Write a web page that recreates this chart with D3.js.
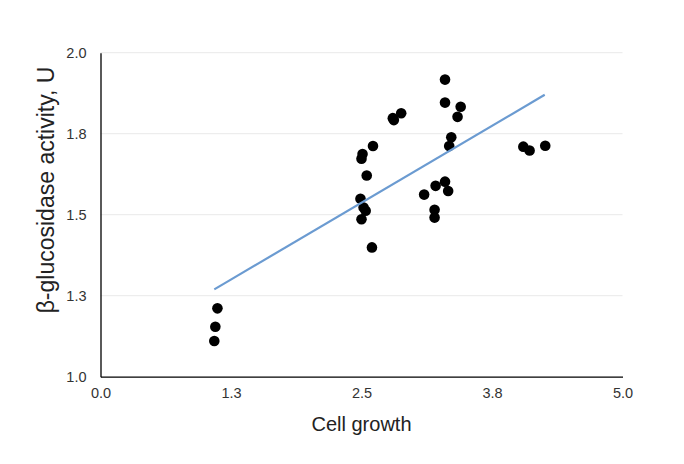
<!DOCTYPE html>
<html>
<head>
<meta charset="utf-8">
<script src="https://cdn.jsdelivr.net/npm/d3@7"></script>
<style>
  html, body { margin: 0; padding: 0; background: #fff; }
  svg { display: block; font-family: "Liberation Sans", Arial, Helvetica, sans-serif; }
</style>
</head>
<body>
<svg id="chart" width="684" height="464"></svg>
<script>
// Data
const cellGrowth = [
  1.12, 1.10, 1.09,
  2.61, 2.51, 2.50, 2.55, 2.49, 2.52, 2.54, 2.50, 2.60,
  2.80, 2.81, 2.88,
  3.30, 3.30, 3.45, 3.42, 3.36, 3.34,
  3.21, 3.30, 3.33, 3.10, 3.20, 3.20,
  4.05, 4.11, 4.26
];
const glucosidase = [
  1.211, 1.154, 1.110,
  1.712, 1.687, 1.673, 1.621, 1.549, 1.522, 1.512, 1.486, 1.399,
  1.798, 1.792, 1.813,
  1.917, 1.846, 1.833, 1.802, 1.739, 1.712,
  1.589, 1.602, 1.573, 1.562, 1.515, 1.491,
  1.710, 1.698, 1.713
];
// Trend line end points
const trendX = [1.09, 4.255];
const trendY = [1.2695, 1.870];
// Axis ticks
const xTicks = [0, 1.25, 2.5, 3.75, 5];
const yTicks = [1, 1.25, 1.5, 1.75, 2];
const xTickLabels = ["0.0", "1.3", "2.5", "3.8", "5.0"];
const yTickLabels = ["1.0", "1.3", "1.5", "1.8", "2.0"];

const svg = d3.select("#chart");
const mLeft = 100.5, mRight = 622.5, mTop = 52.7, mBottom = 376.7;

const x = d3.scaleLinear().domain([0, 5]).range([mLeft, mRight]);
const y = d3.scaleLinear().domain([1, 2]).range([mBottom, mTop]);

// gridlines
svg.append("g")
  .selectAll("line")
  .data(yTicks.slice(1))
  .join("line")
  .attr("x1", mLeft).attr("x2", mRight)
  .attr("y1", d => y(d)).attr("y2", d => y(d))
  .attr("stroke", "#e9e9e9").attr("stroke-width", 1);

// x axis
const xAxis = d3.axisBottom(x).tickValues(xTicks)
  .tickFormat((d, i) => xTickLabels[i]).tickSize(0).tickPadding(11);
const gx = svg.append("g").attr("transform", `translate(0,${mBottom})`).call(xAxis);
gx.select(".domain").attr("stroke", "#000").attr("stroke-width", 1.3);
gx.selectAll("text").attr("font-size", 14.5).attr("fill", "#333")
  .attr("font-family", "Liberation Sans, Arial, sans-serif");

// y axis
const yAxis = d3.axisLeft(y).tickValues(yTicks)
  .tickFormat((d, i) => yTickLabels[i]).tickSize(0).tickPadding(14);
const gy = svg.append("g").attr("transform", `translate(${mLeft},0)`).call(yAxis);
gy.select(".domain").attr("stroke", "#000").attr("stroke-width", 1.3);
gy.selectAll("text").attr("font-size", 14.5).attr("fill", "#333")
  .attr("font-family", "Liberation Sans, Arial, sans-serif");

// axis titles
svg.append("text")
  .attr("x", (mLeft + mRight) / 2).attr("y", 431)
  .attr("text-anchor", "middle")
  .attr("font-size", 20).attr("fill", "#222")
  .text("Cell growth");

svg.append("text")
  .attr("transform", `translate(54,190) rotate(-90)`)
  .attr("text-anchor", "middle")
  .attr("font-size", 23).attr("fill", "#222")
  .text("β-glucosidase activity, U");

// points
const pts = cellGrowth.map((d, i) => ({ x: d, y: glucosidase[i] }));
svg.append("g")
  .selectAll("circle")
  .data(pts)
  .join("circle")
  .attr("cx", d => x(d.x)).attr("cy", d => y(d.y))
  .attr("r", 5.3).attr("fill", "#000");

// trend line
const line = d3.line().x(d => x(d[0])).y(d => y(d[1]));
svg.append("path")
  .datum(trendX.map((d, i) => [d, trendY[i]]))
  .attr("d", line)
  .attr("fill", "none")
  .attr("stroke", "#6b9bd1")
  .attr("stroke-width", 2.2);
</script>
</body>
</html>
